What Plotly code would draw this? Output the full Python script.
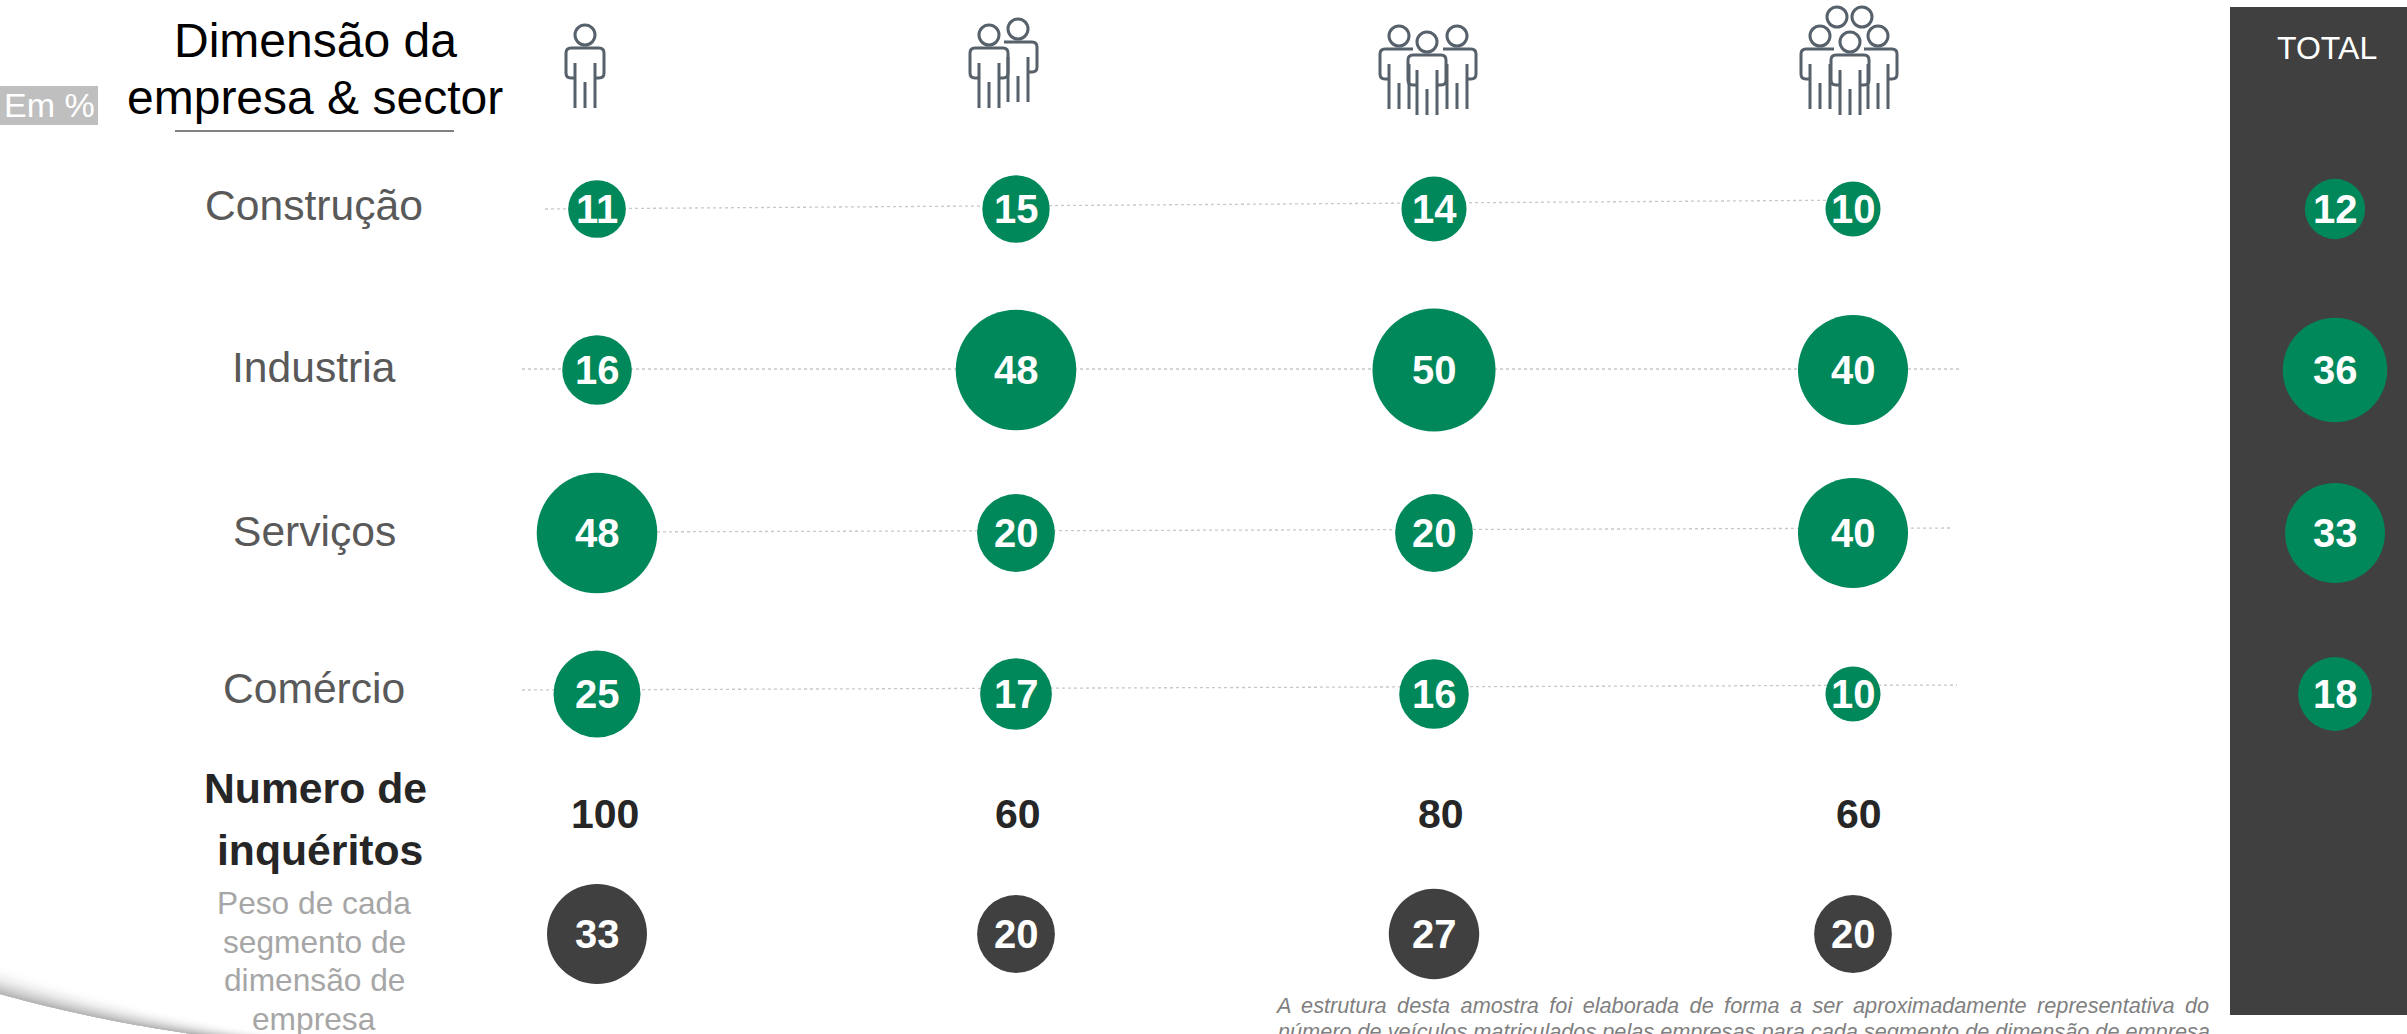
import numpy as np
import plotly.graph_objects as go

# ---------- data ----------
sectors = ["Construção", "Industria", "Serviços", "Comércio"]
construcao = [11, 15, 14, 10]
industria = [16, 48, 50, 40]
servicos = [48, 20, 20, 40]
comercio = [25, 17, 16, 10]
total = [12, 36, 33, 18]
inqueritos = [100, 60, 80, 60]
peso = [33, 20, 27, 20]

# ---------- layout constants (pixels of the 2407x1034 page) ----------
W, H = 2407, 1034
COL_X = [597, 1016, 1434, 1853]
TOTAL_X = 2335
ROW_Y = [209, 370, 533, 694]
PESO_Y = 934
K = 17.4  # diameter per sqrt(value)
GREEN = "#00875A"
DARK = "#404040"
FONT = "Liberation Sans"

fig = go.Figure()
shapes, ann = [], []


def text(x, y, s, size, color, bold=False, italic=False, anchor="center"):
    if bold:
        s = f"<b>{s}</b>"
    if italic:
        s = f"<i>{s}</i>"
    ann.append(dict(x=x, y=y, text=s, showarrow=False, xanchor=anchor, yanchor="middle",
                    font=dict(family=FONT, size=size, color=color), xref="x", yref="y",
                    align="center"))


def bubbles(xs, ys, vals, color):
    fig.add_trace(go.Scatter(
        x=xs, y=ys, mode="markers",
        marker=dict(size=[K * np.sqrt(v) for v in vals], color=color, line=dict(width=0), opacity=1),
        hoverinfo="skip", showlegend=False, cliponaxis=False))
    for x, y, v in zip(xs, ys, vals):
        text(x, y, str(v), 40, "white", bold=True)


# ---------- background decoration ----------
shapes.append(dict(type="rect", x0=2230, x1=W, y0=7, y1=1015, fillcolor=DARK, line_width=0, layer="below"))
shapes.append(dict(type="rect", x0=0, x1=98, y0=86, y1=125, fillcolor="#BFBFBF", line_width=0, layer="below"))
shapes.append(dict(type="line", x0=175, x1=454, y0=131, y1=131, line=dict(color="#808080", width=2), layer="below"))

# page-curl shadow in the lower left corner, drawn as stacked bands
sx = np.linspace(0, 280, 36)
edge = 994 + 0.275 * sx - 0.00035 * sx ** 2
thick = 28 * (1 - sx / 420)
N = 16
for k in range(N):
    f = k / N
    upper = edge - thick * (1 - f)
    g = int(255 - 72 * (f + 1 / N) ** 2)
    pts = [f"{a:.1f},{b:.1f}" for a, b in zip(sx, upper)] + [f"{a:.1f},{b:.1f}" for a, b in zip(sx[::-1], edge[::-1])]
    shapes.append(dict(type="path", path="M" + " L".join(pts) + " Z",
                       fillcolor=f"rgb({g},{g},{g})", line_width=0, layer="below"))

# row guide lines
guides = [(545, 209, 1870, 200), (522, 369, 1959, 369), (597, 532, 1950, 528), (522, 690, 1957, 685)]
for x0, y0, x1, y1 in guides:
    shapes.append(dict(type="line", x0=x0, x1=x1, y0=y0, y1=y1,
                       line=dict(color="#C8C8C8", width=1.3, dash="dot"), layer="below"))


# ---------- icons ----------
def person(cx, hy, left=True, right=True, body=True, c="#56616B"):
    """Outline figure; hy is the head centre."""
    sh = hy + 13
    st = dict(line=dict(color=c, width=3), layer="below")
    shapes.append(dict(type="circle", x0=cx - 10, x1=cx + 10, y0=hy - 10, y1=hy + 10,
                       fillcolor="rgba(0,0,0,0)", **st))
    if not body:
        return
    bot = sh + 60
    l, r = cx - 19, cx + 19
    arm = sh + 30
    pts = f"M{cx-10},{arm} L{cx-14},{arm} Q{l},{arm} {l},{arm-5} L{l},{sh+5} Q{l},{sh} {l+5},{sh}" if left else f"M{cx-14},{sh}"
    pts += f" L{r-5},{sh} Q{r},{sh} {r},{sh+5} L{r},{arm-5} Q{r},{arm} {r-5},{arm} L{cx+10},{arm}" if right else f" L{cx+14},{sh}"
    shapes.append(dict(type="path", path=pts, fillcolor="rgba(0,0,0,0)", **st))
    for dx, start in [(-10, sh + 15), (0, sh + 34), (10, sh + 15)]:
        shapes.append(dict(type="line", x0=cx + dx, x1=cx + dx, y0=start, y1=bot, **st))


person(585, 35)
person(1018, 29, left=False)
person(989, 35)
person(1399, 36, right=False)
person(1457, 36, left=False)
person(1427, 42)
person(1837, 17, body=False)
person(1862, 17, body=False)
person(1820, 36, right=False)
person(1878, 36, left=False)
person(1850, 42)

# ---------- bubbles ----------
for row, y in zip([construcao, industria, servicos, comercio], ROW_Y):
    bubbles(COL_X, [y] * 4, row, GREEN)
bubbles([TOTAL_X] * 4, ROW_Y, total, GREEN)
bubbles(COL_X, [PESO_Y] * 4, peso, DARK)

# ---------- texts ----------
text(49, 105, "Em %", 34, "white")
text(315, 40, "Dimensão da", 48, "black")
text(315, 97, "empresa &amp; sector", 48, "black")
for s, y in zip(sectors, [205, 367, 531, 688]):
    text(314, y, s, 42.6, "#595959")
text(315, 788, "Numero de", 42.7, "#262626", bold=True)
text(320, 850, "inquéritos", 42.7, "#262626", bold=True)
for s, y in zip(["Peso de cada", "segmento de", "dimensão de", "empresa"], [903, 942, 980, 1019]):
    text(314, y, s, 31.7, "#A6A6A6")
for x, v in zip([605, 1018, 1441, 1859], inqueritos):
    text(x, 814, str(v), 41, "#262626", bold=True)
text(2327, 48, "TOTAL", 32, "white")

note1 = "A estrutura desta amostra foi elaborada de forma a ser aproximadamente representativa do"
note2 = "número de veículos matriculados pelas empresas para cada segmento de dimensão de empresa"
text(1273, 1005, f'<span style="word-spacing:4.4px">{note1}</span>', 21.7, "#7F7F7F", italic=True, anchor="left")
text(1276, 1031, note2, 21.7, "#7F7F7F", italic=True, anchor="left")

fig.update_layout(
    width=W, height=H, margin=dict(l=0, r=0, t=0, b=0),
    paper_bgcolor="white", plot_bgcolor="rgba(0,0,0,0)",
    xaxis=dict(range=[0, W], visible=False, fixedrange=True),
    yaxis=dict(range=[H, 0], visible=False, fixedrange=True),
    shapes=shapes, annotations=ann, showlegend=False,
)
fig.write_html("out.html", config=dict(displayModeBar=False),
               post_script="document.body.style.margin='0';document.body.style.overflow='hidden';")
